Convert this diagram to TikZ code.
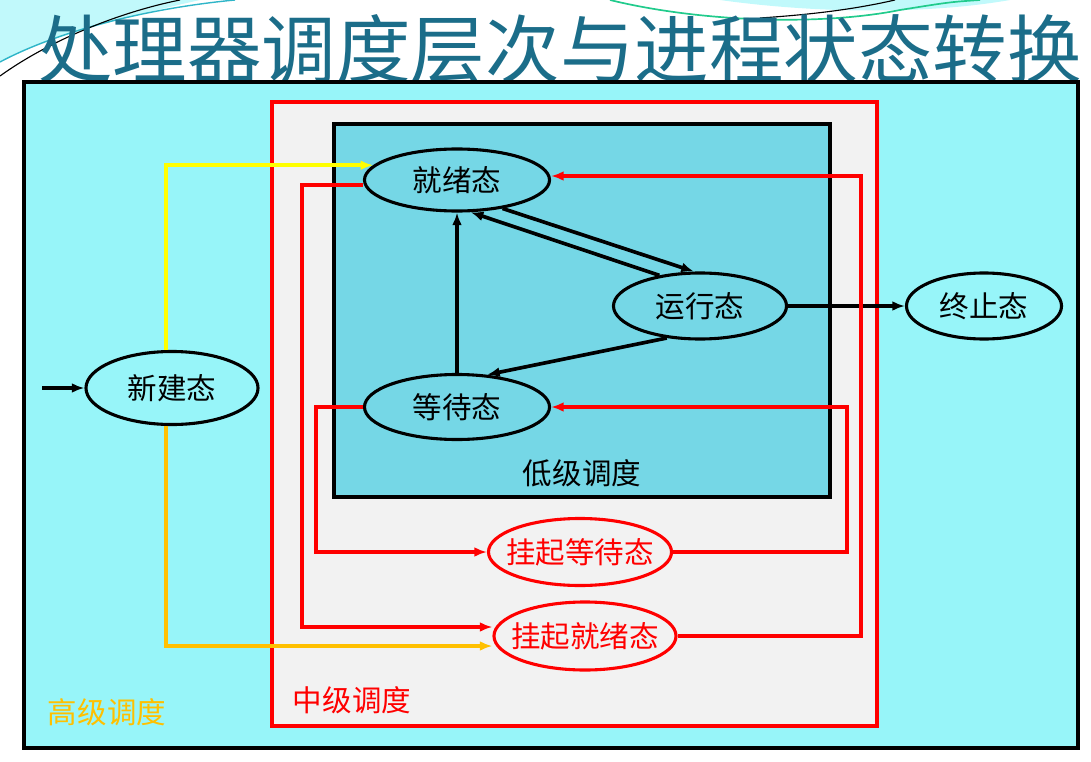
\documentclass[tikz,border=0pt]{standalone}
\usepackage{fontspec}
\usetikzlibrary{arrows.meta, calc, positioning, shapes.geometric}
\newfontfamily\cjk{Noto Sans CJK SC}
\definecolor{highbg}{HTML}{97F5F9}
\definecolor{midbg}{HTML}{F2F2F2}
\definecolor{lowbg}{HTML}{75D7E6}
\definecolor{clrred}{HTML}{FF0000}
\definecolor{clryellow}{HTML}{FFFF00}
\definecolor{clrorange}{HTML}{FFC000}
\definecolor{titleclr}{HTML}{1B6D89}
\definecolor{swoosh}{HTML}{2FB5C8}

\begin{document}
\begin{tikzpicture}[
            x=0.025cm, y=-0.025cm,
            level box/.style={line width=3.5pt},
            state/.style={ellipse, draw, line width=2.2pt, inner sep=0pt, font=\cjk\fontsize{21}{21}\selectfont},
            long state/.style={state, inner xsep=-0.35cm},
            trans/.style={line width=2.6pt, line join=miter, -{Latex[length=9pt, width=7pt]}},
            level label/.style={font=\cjk\fontsize{21}{21}\selectfont},
        ]

        \useasboundingbox (0,0) rectangle (1091,762);

        % Top decoration
        \fill[highbg!60] (0,0) -- (200,0) .. controls (120,18) and (40,40) .. (0,62) -- cycle;
        \draw[swoosh, line width=1pt] (0,62) .. controls (60,30) and (150,8) .. (235,0);
        \draw[black, line width=0.8pt] (0,76) .. controls (50,40) and (120,12) .. (180,0);
        \fill[highbg!60] (720,0) .. controls (820,14) and (930,14) .. (1010,0) -- cycle;
        \draw[swoosh!70!green, line width=1.2pt] (610,0) .. controls (700,22) and (820,26) .. (900,10) .. controls (950,2) .. (980,0);
        \draw[black, line width=0.8pt] (760,18) .. controls (820,14) and (860,8) .. (895,0);

        % Title
        \node[font=\cjk\fontsize{53}{53}\selectfont, text=titleclr] (title) at (560,49) {处理器调度层次与进程状态转换};

        % Scheduling levels
        \draw[level box, fill=highbg] (24,82) rectangle (1078,748);
        \draw[level box, clrred, fill=midbg] (272,102) rectangle (877,726);
        \draw[level box, fill=lowbg] (334,124) rectangle (830,497);

        % States
        \node[state, minimum width=4.625cm, minimum height=1.55cm] (ready) at (457,180) {就绪态};
        \node[state, minimum width=4.325cm, minimum height=1.65cm] (running) at (700,306) {运行态};
        \node[state, minimum width=4.625cm, minimum height=1.625cm] (waiting) at (457,407) {等待态};
        \node[state, minimum width=4.3cm, minimum height=1.825cm] (new) at (172,388) {新建态};
        \node[state, minimum width=3.875cm, minimum height=1.65cm] (exit) at (984,306) {终止态};
        \node[long state, clrred, text=clrred, minimum width=4.575cm, minimum height=1.675cm] (suswait) at (580,552) {挂起等待态};
        \node[long state, clrred, text=clrred, minimum width=4.55cm, minimum height=1.7cm] (susready) at (585,636) {挂起就绪态};

        % Level labels
        \node[level label] (lowlbl) at (582,473) {低级调度};
        \node[level label, text=clrred] (midlbl) at (352,700) {中级调度};
        \node[level label, text=clrorange] (highlbl) at (107,712) {高级调度};

        % Low level transitions
        \draw[trans] (ready.-32) -- (running.100);
        \draw[trans] (running.143) -- (ready.-67);
        \draw[trans] (running.-136) -- (waiting.47);
        \draw[trans] (waiting.north) -- (ready.south);
        \draw[trans] (running.east) -- (exit.west);
        \coordinate (entry) at (42,388);
        \draw[trans] (entry) -- (new.west);

        % High level transitions
        \draw[trans, clryellow] ($(new.north)+(-6,0)$) |- (ready.170);
        \draw[trans, clrorange] ($(new.south)+(-6,0)$) |- ($(susready.west)+(0,10)$);

        % Middle level transitions
        \draw[trans, clrred] ($(ready.west)+(0,5)$) -- ++(-61,0) |- ($(susready.west)+(0,-9)$);
        \draw[trans, clrred] (susready.east) -| ($(ready.east)+(310,-4)$) -- ($(ready.east)+(0,-4)$);
        \draw[trans, clrred] (waiting.west) -- ++(-47,0) |- (suswait.west);
        \draw[trans, clrred] (suswait.east) -| ($(waiting.east)+(296,0)$) -- (waiting.east);

        \end{tikzpicture}
\end{document}
